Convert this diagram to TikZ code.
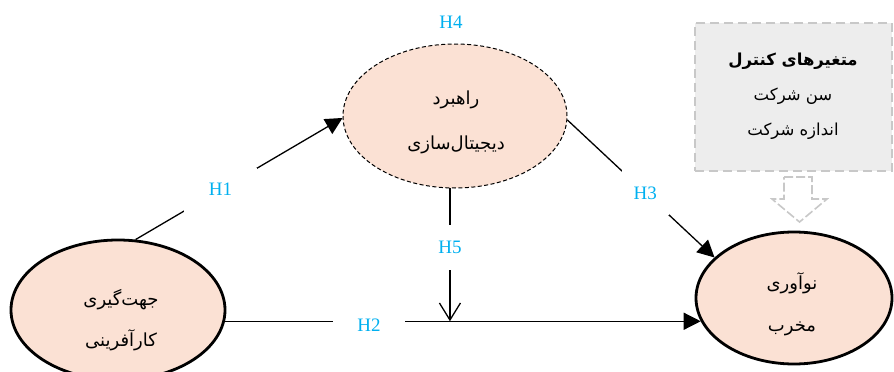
\documentclass[tikz,border=0pt]{standalone}
\usepackage{fontspec}
\setmainfont{Liberation Serif}
\newfontfamily\fafont[Script=Arabic]{DejaVu Sans}
\TeXXeTstate=1
\usetikzlibrary{arrows.meta,shapes.geometric}
\definecolor{peach}{HTML}{FBE1D4}
\definecolor{hcyan}{HTML}{00B0F0}
\definecolor{boxgray}{HTML}{EDEDED}
\definecolor{boxedge}{HTML}{C8C8C8}
\begin{document}
\begin{tikzpicture}[x=1pt,y=-1pt,
  var/.style={ellipse, draw, fill=peach, line width=2.8pt, inner sep=0pt},
  med/.style={ellipse, draw, fill=peach, dash pattern=on 4pt off 2.5pt, line width=1pt, inner sep=0pt},
  fatext/.style={font=\fafont\fontsize{18}{41}\selectfont, align=center, inner sep=0pt},
  hyp/.style={font=\fontsize{19}{19}\selectfont, text=hcyan, fill=white, inner sep=0pt},
  conn/.style={line width=1.3pt, -{Triangle[length=17pt,width=17pt]}},
  openconn/.style={line width=1.3pt, -{Straight Barb[length=17pt,width=21pt]}},
]
\useasboundingbox (0,0) rectangle (894,372);

% control box and block arrow
\node[draw=boxedge, fill=boxgray, dash pattern=on 9pt off 5pt, line width=1.8pt,
      minimum width=197, minimum height=148, inner sep=0pt] (ctrl) at (793.5,97) {};
\node[fatext, font=\fafont\fontsize{16.5}{35}\selectfont] (ctrlT) at (793,96)
  {{\bfseries\beginR متغیرهای کنترل\endR}\\\beginR سن شرکت\endR\\\beginR اندازه شرکت\endR};
\draw[boxedge, line width=1.6pt, fill=white, dash pattern=on 9pt off 3pt]
  (784,177) -- (812,177) -- (812,199) -- (827,199) -- (799.5,222) -- (772,199) -- (784,199) -- cycle;

% constructs
\node[var, minimum width=214, minimum height=140] (ent) at (118,310) {};
\node[var, minimum width=196, minimum height=132] (nov) at (794,298) {};
\node[med, minimum width=224, minimum height=144] (dig) at (455,116) {};

\node[fatext] (entT) at (121,320) {\beginR جهت‌گیری\endR\\\beginR کارآفرینی\endR};
\node[fatext, font=\fafont\fontsize{18}{42}\selectfont] (novT) at (792,304) {\beginR نوآوری\endR\\\beginR مخرب\endR};
\node[fatext, font=\fafont\fontsize{18}{45}\selectfont] (digT) at (456,122) {\beginR راهبرد\endR\\\beginR دیجیتال‌سازی\endR};

% hypotheses
\draw[conn] (ent.76) -- (dig.181) node[hyp, pos=0.41, minimum width=73, minimum height=44] (h1) {H1};
\draw[conn] (ent.-6) -- (ent.-6 -| nov.194) node[hyp, pos=0.3025, yshift=-4pt, minimum width=72, minimum height=22] (h2) {H2};
\draw[conn] (dig.-2) -- (nov.153) node[hyp, pos=0.53, minimum width=47, minimum height=45] (h3) {H3};
\draw[openconn] (dig.266) -- (dig.266 |- ent.-6) node[hyp, pos=0.447, minimum width=30, minimum height=45] (h5) {H5};
\node[hyp] (h4) at (451,22) {H4};
\end{tikzpicture}
\end{document}
